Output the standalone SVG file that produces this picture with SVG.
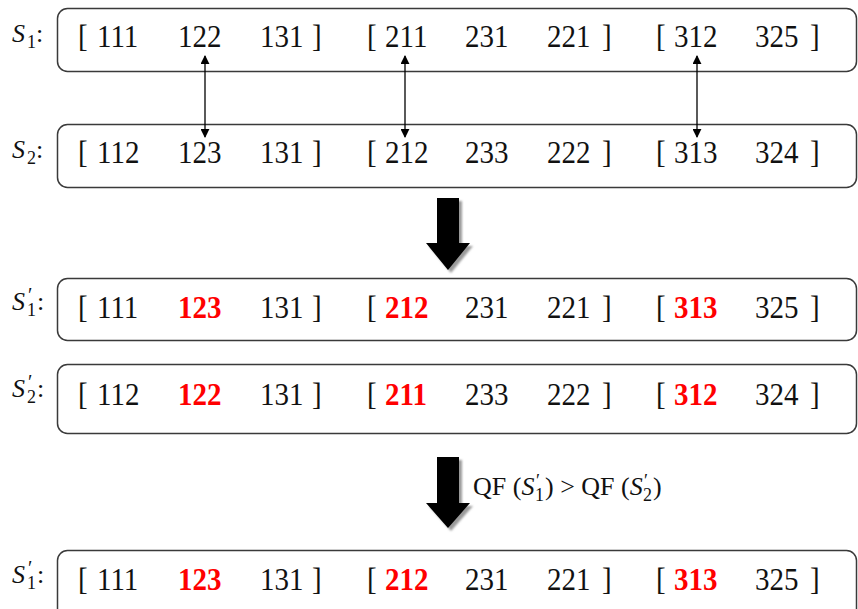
<svg xmlns="http://www.w3.org/2000/svg" width="858" height="609" viewBox="0 0 858 609">
  <defs>
    <style>
      .box { fill: #ffffff; stroke: #3a3a3a; stroke-width: 1.5; }
      .num { font-family: "Liberation Serif", "Times New Roman", serif; font-size: 29px; fill: #111; }
      .hl { font-weight: bold; fill: #ff0000; }
      .lab { font-family: "Liberation Serif", "Times New Roman", serif; font-size: 26px; fill: #111; }
      .it { font-style: italic; }
      .sub { font-size: 18px; }
      .pr { font-size: 20px; }
      .link { stroke: #000; stroke-width: 1.3; fill: none; }
      .big { fill: #000; }
      .shade { fill: #9a9a9a; filter: url(#soft); }
      .qf { font-family: "Liberation Serif", "Times New Roman", serif; font-size: 26px; fill: #111; }
      .qsub { font-size: 18px; }
    </style>
    <filter id="soft" x="-20%" y="-20%" width="140%" height="140%">
      <feGaussianBlur stdDeviation="1"/>
    </filter>
    <marker id="tip" viewBox="0 0 10 10" refX="9" refY="5" markerWidth="9" markerHeight="9" markerUnits="userSpaceOnUse" orient="auto-start-reverse">
      <path d="M0,0 L10,5 L0,10 Z" fill="#000"/>
    </marker>
  </defs>

  <!-- S1 -->
  <g id="s1">
    <rect class="box" x="57.5" y="8.5" width="799" height="63" rx="10"/>
    <text class="lab" x="12" y="42"><tspan class="it">S</tspan><tspan class="sub" x="27" y="48">1</tspan><tspan x="36" y="42">:</tspan></text>
    <g transform="translate(0,47) scale(1,1.1)">
      <text class="num" y="0"><tspan x="78">[</tspan><tspan x="97">111</tspan><tspan x="178">122</tspan><tspan x="260">131</tspan><tspan x="312">]</tspan><tspan x="367">[</tspan><tspan x="385">211</tspan><tspan x="465">231</tspan><tspan x="547">221</tspan><tspan x="602">]</tspan><tspan x="656">[</tspan><tspan x="674">312</tspan><tspan x="755">325</tspan><tspan x="810">]</tspan></text>
    </g>
  </g>

  <!-- S2 -->
  <g id="s2">
    <rect class="box" x="57.5" y="124.5" width="799" height="63" rx="10"/>
    <text class="lab" x="12" y="158"><tspan class="it">S</tspan><tspan class="sub" x="27" y="164">2</tspan><tspan x="36" y="158">:</tspan></text>
    <g transform="translate(0,163) scale(1,1.1)">
      <text class="num" y="0"><tspan x="78">[</tspan><tspan x="97">112</tspan><tspan x="178">123</tspan><tspan x="260">131</tspan><tspan x="312">]</tspan><tspan x="367">[</tspan><tspan x="385">212</tspan><tspan x="465">233</tspan><tspan x="547">222</tspan><tspan x="602">]</tspan><tspan x="656">[</tspan><tspan x="674">313</tspan><tspan x="755">324</tspan><tspan x="810">]</tspan></text>
    </g>
  </g>

  <!-- S1 prime -->
  <g id="s1p">
    <rect class="box" x="57.5" y="278.5" width="799" height="62" rx="10"/>
    <text class="lab" x="12" y="310"><tspan class="it">S</tspan><tspan class="pr" x="28" y="302">′</tspan><tspan class="sub" x="27" y="316">1</tspan><tspan x="37" y="310">:</tspan></text>
    <g transform="translate(0,318) scale(1,1.1)">
      <text class="num" y="0"><tspan x="78">[</tspan><tspan x="97">111</tspan><tspan class="hl" x="178">123</tspan><tspan x="260">131</tspan><tspan x="312">]</tspan><tspan x="367">[</tspan><tspan class="hl" x="385">212</tspan><tspan x="465">231</tspan><tspan x="547">221</tspan><tspan x="602">]</tspan><tspan x="656">[</tspan><tspan class="hl" x="674">313</tspan><tspan x="755">325</tspan><tspan x="810">]</tspan></text>
    </g>
  </g>

  <!-- S2 prime -->
  <g id="s2p">
    <rect class="box" x="57.5" y="364.5" width="799" height="69" rx="10"/>
    <text class="lab" x="12" y="397"><tspan class="it">S</tspan><tspan class="pr" x="28" y="389">′</tspan><tspan class="sub" x="27" y="403">2</tspan><tspan x="37" y="397">:</tspan></text>
    <g transform="translate(0,405) scale(1,1.1)">
      <text class="num" y="0"><tspan x="78">[</tspan><tspan x="97">112</tspan><tspan class="hl" x="178">122</tspan><tspan x="260">131</tspan><tspan x="312">]</tspan><tspan x="367">[</tspan><tspan class="hl" x="385">211</tspan><tspan x="465">233</tspan><tspan x="547">222</tspan><tspan x="602">]</tspan><tspan x="656">[</tspan><tspan class="hl" x="674">312</tspan><tspan x="755">324</tspan><tspan x="810">]</tspan></text>
    </g>
  </g>

  <!-- selected S1 prime -->
  <g id="s1p-final">
    <rect class="box" x="57.5" y="550.5" width="799" height="70" rx="10"/>
    <text class="lab" x="12" y="583"><tspan class="it">S</tspan><tspan class="pr" x="28" y="575">′</tspan><tspan class="sub" x="27" y="589">1</tspan><tspan x="37" y="583">:</tspan></text>
    <g transform="translate(0,590) scale(1,1.1)">
      <text class="num" y="0"><tspan x="78">[</tspan><tspan x="97">111</tspan><tspan class="hl" x="178">123</tspan><tspan x="260">131</tspan><tspan x="312">]</tspan><tspan x="367">[</tspan><tspan class="hl" x="385">212</tspan><tspan x="465">231</tspan><tspan x="547">221</tspan><tspan x="602">]</tspan><tspan x="656">[</tspan><tspan class="hl" x="674">313</tspan><tspan x="755">325</tspan><tspan x="810">]</tspan></text>
    </g>
  </g>

  <!-- connectors: paired positions and transition arrows -->
  <g id="connectors">
    <line class="link" x1="205" y1="56" x2="205" y2="137" marker-start="url(#tip)" marker-end="url(#tip)"/>
    <line class="link" x1="405" y1="56" x2="405" y2="137" marker-start="url(#tip)" marker-end="url(#tip)"/>
    <line class="link" x1="697" y1="56" x2="697" y2="137" marker-start="url(#tip)" marker-end="url(#tip)"/>
    <g id="step1">
      <path class="shade" d="M440,201 H462 V246 H473 L451,273 L429,246 H440 Z"/>
      <path class="big" d="M437,198 H459 V243 H470 L448,270 L426,243 H437 Z"/>
    </g>
    <g id="step2">
      <path class="shade" d="M440,460 H462 V506 H473 L451,531 L429,506 H440 Z"/>
      <path class="big" d="M437,457 H459 V503 H470 L448,528 L426,503 H437 Z"/>
      <text class="qf" x="473" y="495">QF (<tspan class="it">S</tspan><tspan class="qsub" x="536" y="487">′</tspan><tspan class="qsub" x="535" y="501">1</tspan><tspan x="545" y="495">) &gt; QF (</tspan><tspan class="it">S</tspan><tspan class="qsub" x="644" y="487">′</tspan><tspan class="qsub" x="643" y="501">2</tspan><tspan x="653" y="495">)</tspan></text>
    </g>
  </g>
</svg>
